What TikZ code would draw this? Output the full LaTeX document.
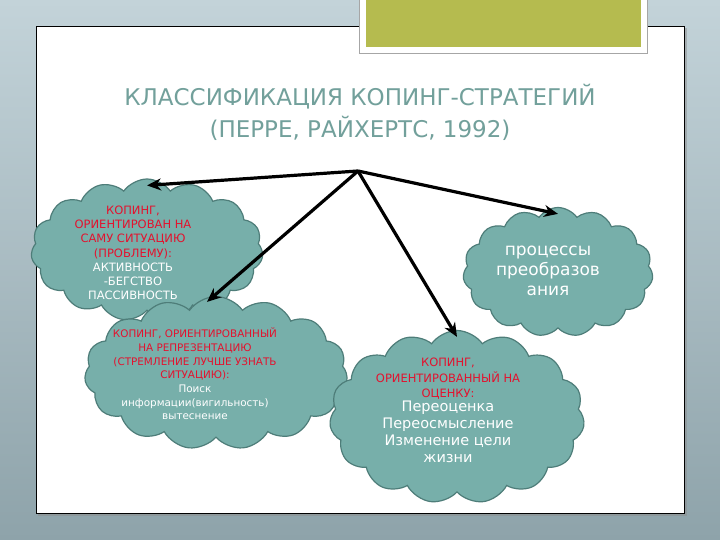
\documentclass[tikz,border=0pt]{standalone}
\usepackage{fontspec}
\setmainfont{DejaVu Sans}
\usepackage{xcolor}
\usepackage{tikz}
\usetikzlibrary{shapes.symbols}
\usetikzlibrary{arrows.meta}
\definecolor{cloudfill}{HTML}{77AFAA}
\definecolor{cloudline}{HTML}{4E7D79}
\definecolor{copred}{HTML}{E3122E}
\definecolor{titleteal}{HTML}{72A09B}
\definecolor{slideolive}{HTML}{B5BB4F}
\definecolor{bgtop}{HTML}{C3D3D9}
\definecolor{bgbottom}{HTML}{8EA3AA}

\begin{document}
\begin{tikzpicture}[x=1pt,y=-1pt]
% Define styles
\tikzstyle{cloudnode} = [cloud, cloud puffs=15, cloud puff arc=110, cloud ignores aspect, draw=cloudline, line width=1.2pt, fill=cloudfill, inner sep=0pt]
\tikzstyle{cloudtext} = [align=center, text=white, inner sep=0pt]
\tikzstyle{arrow} = [-{Stealth[length=14pt,width=12pt]}, line width=3.2pt, black]
% Slide
\useasboundingbox (0,0) rectangle (720,540);
\shade[top color=bgtop, bottom color=bgbottom] (0,0) rectangle (720,540);
\fill[black!45, opacity=0.5] (38,28) rectangle (687,516);
\draw[fill=white, line width=0.8pt] (36,26) rectangle (684,513);
\draw[fill=white, draw=black!35] (359,-2) rectangle (647,53);
\fill[slideolive] (366,-2) rectangle (641,47);
% Define nodes
\node[align=center, text=titleteal, font=\fontsize{23}{32}\selectfont] (title) at (360,112)
  {КЛАССИФИКАЦИЯ КОПИНГ-СТРАТЕГИЙ\\(ПЕРРЕ, РАЙХЕРТС, 1992)};
\coordinate (hub) at (358,171);
\node[cloudnode, minimum width=232pt, minimum height=142pt] (cloudA) at (147,250) {};
\node[cloudnode, minimum width=263pt, minimum height=153pt] (cloudB) at (216,373) {};
\node[cloudnode, minimum width=190pt, minimum height=129pt] (cloudC) at (558,272) {};
\node[cloudnode, minimum width=255pt, minimum height=173pt] (cloudD) at (457,417) {};
\node[cloudtext, font=\fontsize{11.5}{14.2}\selectfont] (textA) at (133,253)
  {\textcolor{copred}{КОПИНГ,}\\\textcolor{copred}{ОРИЕНТИРОВАН НА}\\\textcolor{copred}{САМУ СИТУАЦИЮ}\\\textcolor{copred}{(ПРОБЛЕМУ):}\\АКТИВНОСТЬ\\-БЕГСТВО\\ПАССИВНОСТЬ};
\node[cloudtext, font=\fontsize{10.4}{13.7}\selectfont] (textB) at (195,374)
  {\textcolor{copred}{КОПИНГ, ОРИЕНТИРОВАННЫЙ}\\\textcolor{copred}{НА РЕПРЕЗЕНТАЦИЮ}\\\textcolor{copred}{(СТРЕМЛЕНИЕ ЛУЧШЕ УЗНАТЬ}\\\textcolor{copred}{СИТУАЦИЮ):}\\Поиск\\информации(вигильность)\\вытеснение};
\node[cloudtext, font=\fontsize{17}{20}\selectfont] (textC) at (548,271)
  {процессы\\преобразов\\ания};
\node[cloudtext, font=\fontsize{11.5}{15.5}\selectfont, text=copred] (textD) at (448,379)
  {КОПИНГ,\\ОРИЕНТИРОВАННЫЙ НА\\ОЦЕНКУ:};
\node[cloudtext, font=\fontsize{14.5}{17}\selectfont, anchor=north] (listD) at (448,401)
  {Переоценка\\Переосмысление\\Изменение цели\\жизни};
% Connect the nodes
\draw[arrow] (hub) -- ([yshift=-7pt]cloudA.north);
\draw[arrow] (hub) -- ([xshift=-9pt,yshift=-6pt]cloudB.north);
\draw[arrow] (hub) -- ([yshift=-7pt]cloudC.north);
\draw[arrow] (hub) -- ([yshift=-7pt]cloudD.north);
\end{tikzpicture}
\end{document}
